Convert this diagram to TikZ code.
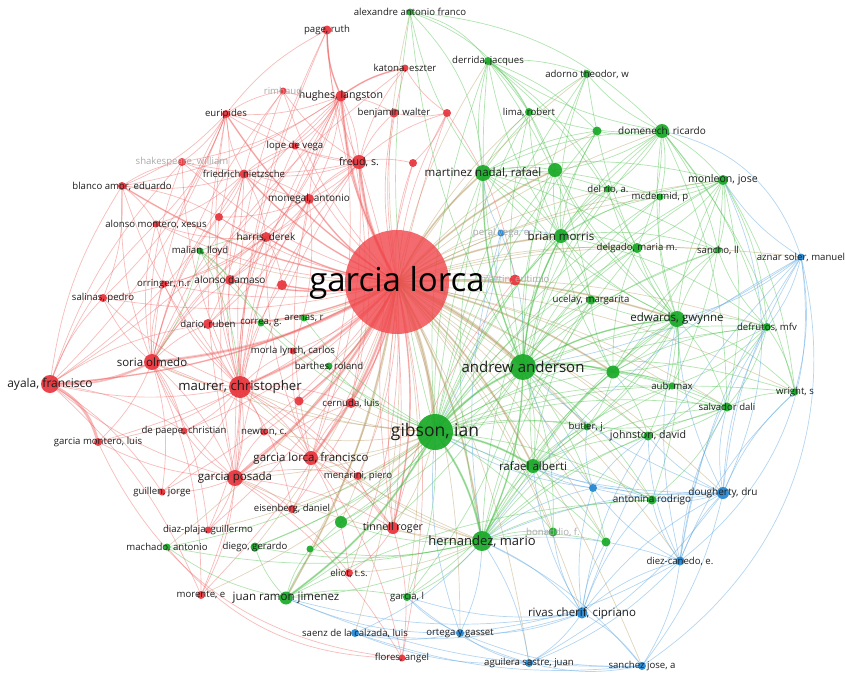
\documentclass[tikz,border=0pt]{standalone}
\usepackage{fontspec}
\setmainfont{Open Sans}
\pgfdeclarelayer{paper}
\pgfdeclarelayer{edges}
\pgfsetlayers{paper,edges,main}
\definecolor{cR}{RGB}{232,52,60}
\definecolor{cL}{RGB}{240,70,75}
\definecolor{cG}{RGB}{25,170,40}
\definecolor{cB}{RGB}{35,135,210}
\definecolor{eR}{RGB}{240,95,95}
\definecolor{eG}{RGB}{70,190,70}
\definecolor{eB}{RGB}{90,165,225}
\definecolor{eO}{RGB}{180,150,90}
\definecolor{tx}{RGB}{30,30,30}
\definecolor{fd}{RGB}{170,170,170}
\newcommand\VN[5]{\node[#1,minimum size=#5pt] (#2) at (#3,#4) {};}
\newcommand\VL[3]{\node[#1] (#2-l) at (#2) {#3};}
\newcommand\edgesfrom[3]{\foreach \t in {#3} {\draw[#1] (#2.center) to (\t.center);}}
\begin{document}
\begin{tikzpicture}[x=1pt,y=-1pt,
  vn/.style={circle,inner sep=0pt,fill opacity=.92},
  rn/.style={vn,fill=cR},
  gn/.style={vn,fill=cG},
  bn/.style={vn,fill=cB},
  lb/.style={text=tx,inner sep=0pt,font=\fontsize{9.6}{9.6}\selectfont},
  lmA/.style={text=tx,inner sep=0pt,font=\fontsize{10}{10}\selectfont},
  lm/.style={text=tx,inner sep=0pt,font=\fontsize{10.6}{10.6}\selectfont},
  lmB/.style={text=tx,inner sep=0pt,font=\fontsize{11.5}{11.5}\selectfont},
  ll/.style={text=tx,inner sep=0pt,font=\fontsize{11.5}{11.5}\selectfont},
  lf/.style={text=fd,inner sep=0pt,font=\fontsize{9.6}{9.6}\selectfont},
  ER/.style={draw=eR,line width=.7pt,draw opacity=.42,bend left=12},
  EG/.style={draw=eG,line width=.7pt,draw opacity=.42,bend left=12},
  EB/.style={draw=eB,line width=.7pt,draw opacity=.45,bend left=12},
  EO/.style={draw=eO,line width=.7pt,draw opacity=.4,bend left=10},
]
\begin{pgfonlayer}{paper}
\fill[white] (0,0) rectangle (845,681);
\end{pgfonlayer}
\useasboundingbox (0,0) rectangle (845,681);
% ---------------- red nodes
\VN{vn,fill=cL,fill opacity=.8}{lorca}{397}{282}{104}
\VN{rn}{page}{327}{30}{9}
\VN{rn}{katona}{405}{68}{7}
\VN{rn}{hughes}{341}{96}{11}
\VN{rn}{benjamin}{394}{113}{9}
\VN{rn}{rimbaud}{283}{91}{7}
\VN{rn}{rA}{447}{113}{8}
\VN{rn}{euripides}{226}{114}{8}
\VN{rn}{lope}{295}{146}{7}
\VN{rn}{shakes}{182}{162}{8}
\VN{rn}{nietz}{244}{174}{9}
\VN{rn}{blanco}{122}{186}{8}
\VN{rn}{freud}{359}{162}{14}
\VN{rn}{rB}{413}{163}{8}
\VN{rn}{monegal}{309}{199}{10}
\VN{rn}{rC}{219}{217}{8}
\VN{rn}{alonsoM}{156}{224}{7}
\VN{rn}{harris}{266}{237}{10}
\VN{rn}{alonsoD}{230}{280}{10}
\VN{rn}{rD}{282}{285}{10}
\VN{rn}{orringer}{164}{284}{7}
\VN{rn}{salinas}{103}{298}{8}
\VN{rn}{dario}{208}{324}{10}
\VN{rn}{soria}{152}{362}{16}
\VN{rn}{ayala}{50}{384}{18}
\VN{rn}{maurer}{240}{387}{22}
\VN{rn}{morla}{293}{351}{7}
\VN{rn}{rE}{299}{401}{9}
\VN{rn}{cernuda}{351}{403}{10}
\VN{rn}{depaepe}{184}{431}{7}
\VN{rn}{newton}{264}{432}{7}
\VN{rn}{gmontero}{98}{442}{8}
\VN{rn}{glf}{311}{458}{14}
\VN{rn}{menarini}{358}{476}{8}
\VN{rn}{gposada}{235}{478}{16}
\VN{rn}{guillen}{162}{492}{7}
\VN{rn}{eisenberg}{292}{509}{8}
\VN{rn}{tinnell}{393}{528}{12}
\VN{rn}{diazplaja}{208}{530}{7}
\VN{rn}{morente}{201}{595}{8}
\VN{rn}{eliot}{349}{573}{8}
\VN{rn}{flores}{402}{658}{7}
\VN{rn}{martin}{515}{280}{11}
% ---------------- green nodes
\VN{gn}{alexandre}{410}{12}{7}
\VN{gn}{derrida}{488}{61}{8}
\VN{gn}{adorno}{587}{74}{8}
\VN{gn}{lima}{529}{112}{8}
\VN{gn}{gA}{597}{131}{9}
\VN{gn}{domenech}{662}{131}{14}
\VN{gn}{monleon}{723}{180}{10}
\VN{gn}{mnadal}{483}{173}{16}
\VN{gn}{gB}{555}{170}{14}
\VN{gn}{delrio}{608}{189}{7}
\VN{gn}{mcdermid}{660}{197}{7}
\VN{gn}{brian}{561}{236}{14}
\VN{gn}{delgado}{637}{248}{10}
\VN{gn}{sancho}{718}{250}{7}
\VN{gn}{ucelay}{591}{300}{9}
\VN{gn}{edwards}{677}{319}{16}
\VN{gn}{defrutos}{767}{327}{8}
\VN{gn}{anderson}{523}{367}{26}
\VN{gn}{gC}{613}{372}{13}
\VN{gn}{aub}{672}{386}{7}
\VN{gn}{wright}{795}{392}{7}
\VN{gn}{salvador}{727}{407}{9}
\VN{gn}{butler}{587}{427}{7}
\VN{gn}{johnston}{648}{436}{9}
\VN{gn}{gibson}{435}{432}{36}
\VN{gn}{alberti}{533}{466}{14}
\VN{gn}{antonina}{652}{500}{9}
\VN{gn}{gD}{553}{532}{9}
\VN{gn}{gE}{606}{542}{9}
\VN{gn}{hernandez}{482}{541}{20}
\VN{gn}{garciaL}{407}{597}{8}
\VN{gn}{juanramon}{286}{598}{13}
\VN{gn}{gF}{341}{522}{12}
\VN{gn}{gG}{310}{549}{7}
\VN{gn}{diego}{255}{547}{9}
\VN{gn}{machado}{167}{547}{7}
\VN{gn}{malian}{200}{251}{7}
\VN{gn}{correa}{261}{323}{7}
\VN{gn}{arenas}{304}{318}{7}
\VN{gn}{barthes}{329}{366}{7}
% ---------------- blue nodes
\VN{bn}{aznar}{801}{257}{7}
\VN{bn}{peral}{501}{233}{7}
\VN{bn}{bA}{593}{488}{8}
\VN{bn}{dougherty}{723}{493}{12}
\VN{bn}{diezcanedo}{680}{561}{9}
\VN{bn}{rivas}{582}{613}{11}
\VN{bn}{sanchez}{642}{666}{8}
\VN{bn}{aguilera}{529}{663}{8}
\VN{bn}{ortega}{460}{633}{8}
\VN{bn}{saenz}{355}{633}{8}
% ---------------- edges
\begin{pgfonlayer}{edges}
\edgesfrom{ER}{lorca}{page,katona,hughes,benjamin,rimbaud,rA,euripides,lope,shakes,nietz,blanco,freud,rB,monegal,rC,alonsoM,harris,alonsoD,rD,orringer,salinas,dario,soria,ayala,maurer,morla,rE,cernuda,depaepe,newton,gmontero,glf,menarini,gposada,guillen,eisenberg,tinnell,diazplaja,morente,eliot,flores,martin}
\edgesfrom{ER,line width=2.8pt,draw opacity=.35}{lorca}{maurer,soria,gposada,glf,hughes,freud}
\edgesfrom{ER,line width=1.6pt,draw opacity=.35}{lorca}{ayala,monegal,harris,alonsoD,rD,nietz,cernuda,tinnell,dario,rE,euripides,blanco}
\edgesfrom{EO}{lorca}{alexandre,derrida,adorno,lima,gA,domenech,monleon,mnadal,gB,delrio,mcdermid,brian,delgado,sancho,ucelay,edwards,defrutos,anderson,gC,aub,wright,salvador,butler,johnston,gibson,alberti,antonina,gD,gE,hernandez,garciaL,juanramon,gF,gG,diego,machado,malian,correa,arenas,barthes}
\edgesfrom{EO,line width=3.2pt,draw opacity=.4}{lorca}{gibson,anderson}
\edgesfrom{EO,line width=1.9pt,draw opacity=.35}{lorca}{hernandez,mnadal,brian,alberti,edwards,juanramon,gB,gC}
\edgesfrom{EO}{lorca}{aznar,peral,bA,dougherty,diezcanedo,rivas,sanchez,aguilera,ortega,saenz}
% red cluster
\edgesfrom{ER}{maurer}{ayala,soria,gposada,glf,hughes,freud,nietz,euripides,blanco,salinas,orringer,dario,alonsoD,harris,monegal,morla,cernuda,depaepe,newton,gmontero,guillen,diazplaja,morente,eisenberg,menarini,tinnell,rD,rE,lope,shakes,alonsoM,page,rimbaud,rC}
\edgesfrom{ER}{soria}{ayala,salinas,gmontero,depaepe,dario,gposada,glf,hughes,nietz,euripides,blanco,alonsoM,orringer,alonsoD,harris,freud,guillen,morente,diazplaja,shakes,rimbaud,katona,rC}
\edgesfrom{ER}{gposada}{ayala,soria,guillen,diazplaja,morente,glf,hughes,freud,eliot,flores,tinnell,newton,depaepe,gmontero,eisenberg,menarini,cernuda,nietz,euripides,page}
\edgesfrom{ER}{hughes}{page,katona,benjamin,rimbaud,euripides,lope,nietz,freud,monegal,harris,alonsoD,glf,cernuda,ayala,blanco,shakes}
\edgesfrom{ER}{freud}{benjamin,rA,rB,katona,nietz,lope,monegal,harris,glf,tinnell,euripides,rimbaud,page,shakes,cernuda}
\edgesfrom{ER}{nietz}{euripides,shakes,blanco,lope,rimbaud,alonsoM,harris,monegal,rC,dario,ayala}
\edgesfrom{ER}{euripides}{shakes,blanco,rimbaud,lope,rC,salinas,alonsoM,ayala,page}
\edgesfrom{ER}{ayala}{salinas,blanco,alonsoM,depaepe,guillen,morente,dario,shakes}
\edgesfrom{ER}{monegal}{harris,alonsoD,nietz,freud,hughes,rD,morla,dario,rC}
\edgesfrom{ER}{harris}{alonsoD,rD,dario,orringer,alonsoM,rC,salinas}
\draw[ER,line width=2.8pt,draw opacity=.45,bend left=25] (ayala.center) to (gmontero.center);
\draw[ER,line width=1.6pt,bend right=15] (ayala.center) to (soria.center);
\draw[ER,bend right=30] (gmontero.center) to (flores.center);
\draw[ER,bend right=25] (machado.center) to (flores.center);
\edgesfrom{ER}{glf}{tinnell,menarini,eisenberg,newton,eliot,flores,cernuda,morla,monegal,harris}
\edgesfrom{ER}{blanco}{shakes,alonsoM,salinas,rC}
\edgesfrom{ER}{tinnell}{flores,eliot,menarini,martin,rB,rA}
\edgesfrom{ER}{rA}{benjamin,katona,martin,rB}
\edgesfrom{ER,line width=1.6pt}{hughes}{page,katona}
% green cluster
\edgesfrom{EG}{gibson}{alexandre,derrida,adorno,lima,gA,domenech,monleon,mnadal,gB,delrio,mcdermid,brian,delgado,sancho,ucelay,edwards,defrutos,anderson,gC,aub,wright,salvador,butler,johnston,alberti,antonina,gD,gE,hernandez,garciaL,juanramon,gF,gG,diego,machado,malian,correa,arenas,barthes}
\edgesfrom{EG,line width=2pt}{gibson}{anderson,hernandez,alberti,juanramon}
\edgesfrom{EG}{anderson}{alexandre,derrida,adorno,lima,gA,domenech,monleon,mnadal,gB,delrio,mcdermid,brian,delgado,sancho,ucelay,edwards,defrutos,gC,aub,wright,salvador,butler,johnston,alberti,antonina,gD,gE,hernandez,garciaL,juanramon,gF,diego}
\edgesfrom{EG,line width=1.5pt}{anderson}{hernandez,edwards,brian,mnadal,gC}
\edgesfrom{EG}{hernandez}{alberti,juanramon,garciaL,gF,gG,diego,machado,gD,gE,antonina,johnston,butler,edwards,brian,mnadal,gC,salvador,aub,ucelay,delgado}
\edgesfrom{EG}{edwards}{defrutos,sancho,delgado,ucelay,brian,gC,aub,salvador,wright,johnston,butler,monleon,mcdermid,delrio,domenech,gB,mnadal,lima,adorno,alberti,antonina}
\edgesfrom{EG}{mnadal}{derrida,lima,adorno,gA,domenech,gB,delrio,mcdermid,brian,delgado,ucelay,alexandre,monleon,sancho}
\edgesfrom{EG}{brian}{gB,delrio,mcdermid,delgado,sancho,ucelay,lima,gA,domenech,monleon,defrutos,derrida,adorno}
\edgesfrom{EG}{domenech}{monleon,adorno,lima,gA,gB,delrio,mcdermid,sancho,defrutos,delgado,derrida,wright,salvador}
\edgesfrom{EG}{derrida}{adorno,lima,gA,gB,delrio,delgado,ucelay}
\edgesfrom{EG,bend left=20}{alexandre}{derrida,domenech,lima,mnadal}
\edgesfrom{EG}{monleon}{sancho,defrutos,delgado,mcdermid,delrio,gC,salvador,wright,aub}
\edgesfrom{EG}{defrutos}{wright,salvador,sancho,aub,gC,johnston}
\edgesfrom{EG}{salvador}{wright,aub,johnston,gC,antonina,butler}
\edgesfrom{EG}{juanramon}{machado,diego,gG,gF,garciaL,antonina}
\edgesfrom{EG}{alberti}{butler,johnston,antonina,gD,gE,garciaL,gC,ucelay,brian,edwards,salvador,aub}
\edgesfrom{EG}{gC}{brian,edwards,delgado,ucelay,sancho,johnston,aub,salvador,butler,defrutos}
\edgesfrom{EG}{malian}{maurer,soria,alonsoD,harris,correa}
\edgesfrom{EO}{gibson}{maurer,soria,gposada,glf,tinnell,eisenberg,menarini,cernuda,rE,newton,diazplaja,morente}
\edgesfrom{EO}{hernandez}{gposada,glf,tinnell,menarini,eliot,maurer}
% blue cluster
\edgesfrom{EB}{hernandez}{aznar,peral,bA,dougherty,diezcanedo,rivas,sanchez,aguilera,ortega,saenz}
\edgesfrom{EB}{rivas}{sanchez,aguilera,ortega,saenz,diezcanedo,dougherty,bA,aznar,gE,gD,antonina,alberti,johnston,garciaL,juanramon}
\edgesfrom{EB}{diezcanedo}{sanchez,aguilera,dougherty,aznar,bA,ortega,johnston,antonina,salvador,wright,defrutos,edwards}
\edgesfrom{EB}{dougherty}{aznar,sanchez,aguilera,bA,johnston,antonina,salvador,wright,defrutos,edwards,anderson,gibson,alberti}
\edgesfrom{EB}{sanchez}{aguilera,ortega,saenz,juanramon}
\edgesfrom{EB}{aguilera}{ortega,saenz,garciaL}
\edgesfrom{EB}{ortega}{saenz,juanramon,garciaL,gibson}
\edgesfrom{EB}{bA}{alberti,gibson,anderson,johnston,antonina,butler}
\edgesfrom{EB}{peral}{brian,mnadal,anderson,gibson}
\edgesfrom{EB}{aznar}{monleon,wright,edwards,defrutos,anderson}
\draw[EB,bend left=35] (aznar.center) to (sanchez.center);
\draw[EB,bend left=30] (aznar.center) to (diezcanedo.center);
\draw[EB,bend left=30] (domenech.center) to (aznar.center);
\draw[EB,bend left=25] (monleon.center) to (dougherty.center);
\end{pgfonlayer}
% ---------------- labels
\node[text=black,inner sep=0pt,font=\fontsize{33}{33}\selectfont] (lorca-l) at (397,283) {garcia lorca};
\VL{lb}{page}{page, ruth}
\VL{lb}{alexandre}{alexandre antonio franco}
\VL{lb}{katona}{katona, eszter}
\VL{lb}{derrida}{derrida, jacques}
\VL{lb}{adorno}{adorno theodor, w}
\VL{lm}{hughes}{hughes, langston}
\VL{lb}{benjamin}{benjamin walter}
\VL{lf}{rimbaud}{rimbaud}
\VL{lb}{lima}{lima, robert}
\VL{lb}{euripides}{euripides}
\VL{lmA}{domenech}{domenech, ricardo}
\VL{lb}{lope}{lope de vega}
\VL{lf}{shakes}{shakespeare, william}
\VL{lm}{freud}{freud, s.}
\VL{lb}{nietz}{friedrich nietzsche}
\VL{lmB}{mnadal}{martinez nadal, rafael}
\VL{lb}{blanco}{blanco amor, eduardo}
\VL{lm}{monleon}{monleon, jose}
\VL{lb}{delrio}{del rio, a.}
\VL{lb}{mcdermid}{mcdermid, p}
\VL{lmA}{monegal}{monegal, antonio}
\VL{lb}{alonsoM}{alonso montero, xesus}
\VL{lmA}{harris}{harris, derek}
\VL{lf}{peral}{peral vega, e}
\VL{lmB}{brian}{brian morris}
\VL{lb}{delgado}{delgado, maria m.}
\VL{lb}{sancho}{sancho, ll}
\VL{lb}{aznar}{aznar soler, manuel}
\VL{lb}{malian}{malian, lloyd}
\VL{lmA}{alonsoD}{alonso damaso}
\VL{lb}{orringer}{orringer, n.r}
\VL{lf}{martin}{martin, eutimio}
\VL{lb}{ucelay}{ucelay, margarita}
\VL{lb}{salinas}{salinas, pedro}
\VL{lb}{arenas}{arenas, r}
\VL{ll}{edwards}{edwards, gwynne}
\VL{lb}{defrutos}{defrutos, mfv}
\VL{lb}{dario}{dario, ruben}
\VL{lb}{correa}{correa, g.}
\VL{lb}{morla}{morla lynch, carlos}
\VL{ll}{soria}{soria olmedo}
\node[text=tx,inner sep=0pt,font=\fontsize{15}{15}\selectfont] (anderson-l) at (anderson) {andrew anderson};
\VL{lb}{barthes}{barthes, roland}
\node[text=tx,inner sep=0pt,font=\fontsize{12}{12}\selectfont] (ayala-l) at (ayala) {ayala, francisco};
\node[text=tx,inner sep=0pt,font=\fontsize{13.2}{13.2}\selectfont] (maurer-l) at (maurer) {maurer, christopher};
\VL{lb}{aub}{aub, max}
\VL{lb}{wright}{wright, s}
\VL{lb}{cernuda}{cernuda, luis}
\VL{lb}{salvador}{salvador dali}
\VL{lb}{butler}{butler, j.}
\VL{lb}{depaepe}{de paepe, christian}
\VL{lb}{newton}{newton, c.}
\node[text=tx,inner sep=0pt,font=\fontsize{17.5}{17.5}\selectfont] (gibson-l) at (gibson) {gibson, ian};
\VL{lm}{johnston}{johnston, david}
\VL{lb}{gmontero}{garcia montero, luis}
\VL{lmB}{glf}{garcia lorca, francisco}
\VL{lmB}{alberti}{rafael alberti}
\VL{lb}{menarini}{menarini, piero}
\VL{ll}{gposada}{garcia posada}
\VL{lmA}{dougherty}{dougherty, dru}
\VL{lb}{guillen}{guillen, jorge}
\VL{lmA}{antonina}{antonina rodrigo}
\VL{lb}{eisenberg}{eisenberg, daniel}
\VL{lm}{tinnell}{tinnell roger}
\VL{lb}{diazplaja}{diaz-plaja, guillermo}
\VL{lf}{gD}{bonaddio, f.}
\node[text=tx,inner sep=0pt,font=\fontsize{13}{13}\selectfont] (hernandez-l) at (hernandez) {hernandez, mario};
\VL{lb}{machado}{machado, antonio}
\VL{lb}{diego}{diego, gerardo}
\VL{lb}{diezcanedo}{diez-canedo, e.}
\VL{lb}{eliot}{eliot, t.s.}
\VL{lb}{morente}{morente, e}
\VL{lmB}{juanramon}{juan ramon jimenez}
\VL{lb}{garciaL}{garcia, l}
\VL{lmB}{rivas}{rivas cherif, cipriano}
\VL{lb}{saenz}{saenz de la calzada, luis}
\VL{lb}{ortega}{ortega y gasset}
\VL{lb}{flores}{flores, angel}
\VL{lb}{aguilera}{aguilera sastre, juan}
\VL{lb}{sanchez}{sanchez jose, a}
\end{tikzpicture}
\end{document}
